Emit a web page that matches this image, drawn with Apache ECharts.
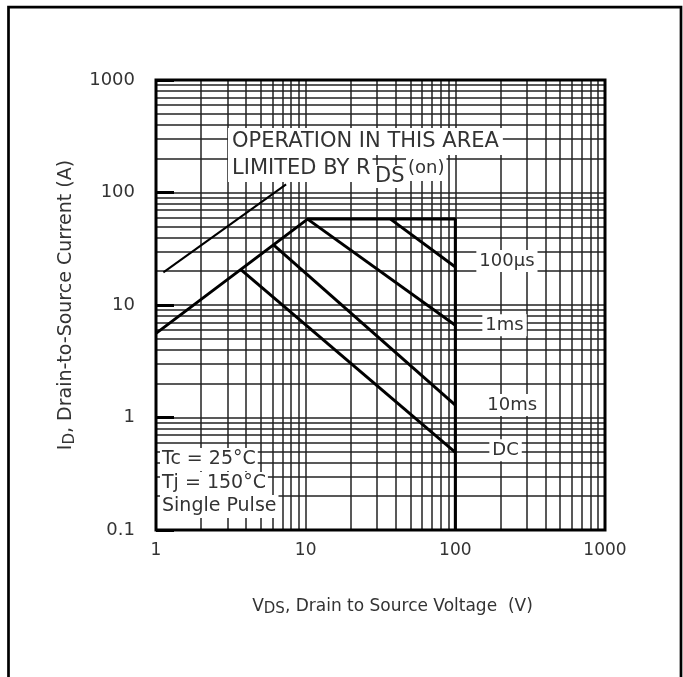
<!DOCTYPE html>
<html><head><meta charset="utf-8">
<script src="https://cdn.jsdelivr.net/npm/echarts@6/dist/echarts.min.js"></script>
<style>html,body{margin:0;padding:0;background:#fff}#c{width:683px;height:677px}</style>
</head><body><div id="c"></div>
<script>
// ---- data ----
const xTickValues = [1, 10, 100, 1000];
const yTickValues = [0.1, 1, 10, 100, 1000];
const xMinorGrid = [2,3,4,5,6,7,8,9,20,30,40,50,60,70,80,90,200,300,400,500,600,700,800,900];
const yMinorGrid = [0.2,0.3,0.4,0.5,0.6,0.7,0.8,0.9,2,3,4,5,6,7,8,9,20,30,40,50,60,70,80,90,200,300,400,500,600,700,800,900];
const rdsLimit   = [[1.12, 19.5], [7.4, 118]];
const soaBound   = [[1, 5.6], [10.3, 58], [100, 58], [100, 0.1]];
const pulse100us = [[36.9, 58], [100, 21.8]];
const pulse1ms   = [[10.3, 58], [100, 6.6]];
const pulse10ms  = [[6.1, 34.3], [100, 1.29]];
const dcCurve    = [[3.69, 20.6], [100, 0.49]];
const curveLabels = ['100\u00b5s', '1ms', '10ms', 'DC'];

const F = 'DejaVu Sans';
const TXT = '#333';
const GRID = '#222';
const chart = echarts.init(document.getElementById('c'), null, {renderer: 'canvas'});

function curve(data, width, label, off) {
  const s = {type: 'line', data: data, symbol: 'none', animation: false, z: 5,
    lineStyle: {color: '#000', width: width}};
  if (label) {
    s.endLabel = {show: true, formatter: label, distance: 0, offset: off, color: TXT,
      fontFamily: F, fontSize: 18, backgroundColor: '#fff', padding: [2, 3],
      align: 'left', verticalAlign: 'middle'};
  }
  return s;
}

const gridLines = xMinorGrid.map(v => ({xAxis: v})).concat(yMinorGrid.map(v => ({yAxis: v})));

chart.setOption({
  animation: false,
  backgroundColor: '#fff',
  grid: {left: 156, top: 80, width: 449, height: 450, show: true, borderColor: '#000', borderWidth: 3,
         backgroundColor: 'transparent', outerBoundsMode: 'none', z: 10},
  xAxis: {type: 'log', logBase: 10, min: 1, max: 1000,
    name: '{v|V}{s|DS}{v|, Drain to Source Voltage  (V)}', nameLocation: 'middle', nameGap: 67,
    nameTextStyle: {padding: [0, 0, 0, 24], rich: {
      v: {fontFamily: F, fontSize: 17, color: TXT},
      s: {fontFamily: F, fontSize: 15, color: TXT, padding: [5, 0, 0, 0]}}},
    axisLine: {show: false}, axisTick: {show: false},
    axisLabel: {fontFamily: F, fontSize: 17, color: TXT, margin: 12,
      formatter: v => String(+(+v).toPrecision(4))},
    splitLine: {show: true, lineStyle: {color: GRID, width: 1.5}},
    minorTick: {show: false}, minorSplitLine: {show: false}},
  yAxis: {type: 'log', logBase: 10, min: 0.1, max: 1000,
    name: '{v|I}{s|D}{v|, Drain-to-Source Current (A)}', nameLocation: 'middle', nameGap: 78, nameRotate: 90,
    nameTextStyle: {rich: {
      v: {fontFamily: F, fontSize: 19, color: TXT},
      s: {fontFamily: F, fontSize: 15, color: TXT, padding: [8, 0, 0, 0]}}},
    axisLine: {show: false},
    axisTick: {show: true, inside: true, length: 18, lineStyle: {color: '#000', width: 3}},
    axisLabel: {fontFamily: F, fontSize: 18, color: TXT, margin: 21,
      formatter: v => String(+(+v).toPrecision(4))},
    splitLine: {show: true, lineStyle: {color: GRID, width: 1.5}},
    minorTick: {show: false}, minorSplitLine: {show: false}},
  series: [
    {type: 'line', data: [], z: 1, animation: false,
     markLine: {silent: true, symbol: ['none', 'none'], label: {show: false}, animation: false,
       lineStyle: {color: GRID, width: 1.5, type: 'solid'}, data: gridLines}},
    curve(rdsLimit, 2, null),
    curve(soaBound, 3, null),
    curve(pulse100us, 3, curveLabels[0], [21, -6]),
    curve(pulse1ms, 3, curveLabels[1], [27, 0]),
    curve(pulse10ms, 3, curveLabels[2], [29, 0]),
    curve(dcCurve, 3, curveLabels[3], [34, -2])
  ],
  graphic: [
    {type: 'rect', shape: {x: 8.5, y: 7.2, width: 672.5, height: 720}, z: 100,
     style: {fill: 'none', stroke: '#000', lineWidth: 2.7}},
    {type: 'text', x: 228, y: 128, z: 50, style: {text: 'OPERATION IN THIS AREA', font: '21px "DejaVu Sans"',
      fill: TXT, backgroundColor: '#fff', padding: [3, 4], lineHeight: 21}},
    {type: 'text', x: 228, y: 155, z: 50, style: {text: 'LIMITED BY R', font: '21px "DejaVu Sans"',
      fill: TXT, backgroundColor: '#fff', padding: [3, 2, 3, 4], lineHeight: 21}},
    {type: 'text', x: 373, y: 165, z: 50, style: {text: 'DS', font: '21px "DejaVu Sans"',
      fill: TXT, backgroundColor: '#fff', padding: [1, 2], lineHeight: 21}},
    {type: 'text', x: 406, y: 155, z: 50, style: {text: '(on)', font: '18px "DejaVu Sans"',
      fill: TXT, backgroundColor: '#fff', padding: [3, 2], lineHeight: 20}},
    {type: 'text', x: 160, y: 448, z: 50, style: {text: 'Tc = 25\u00b0C', font: '19px "DejaVu Sans"',
      fill: TXT, backgroundColor: '#fff', padding: [1, 2], lineHeight: 21}},
    {type: 'text', x: 160, y: 472, z: 50, style: {text: 'Tj = 150\u00b0C', font: '19px "DejaVu Sans"',
      fill: TXT, backgroundColor: '#fff', padding: [1, 2], lineHeight: 21}},
    {type: 'text', x: 160, y: 495, z: 50, style: {text: 'Single Pulse', font: '19px "DejaVu Sans"',
      fill: TXT, backgroundColor: '#fff', padding: [1, 2], lineHeight: 21}}
  ]
});
</script></body></html>
